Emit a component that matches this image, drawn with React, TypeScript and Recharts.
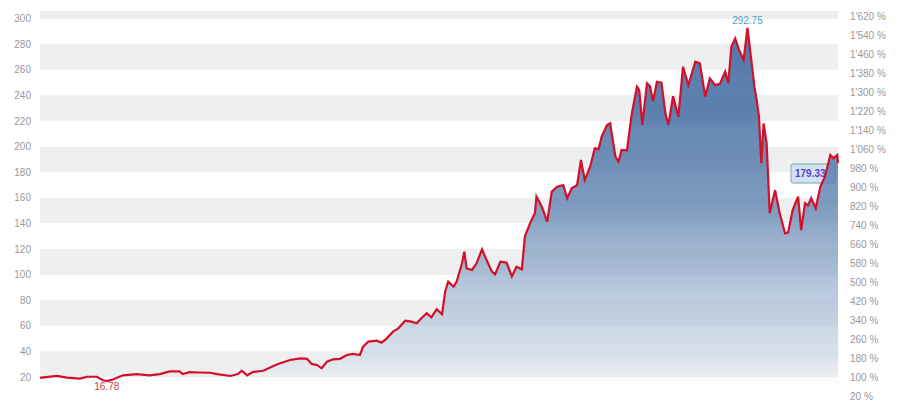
import { AreaChart, Area, Line, XAxis, YAxis, CartesianGrid, ReferenceDot } from 'recharts';

// time position of each observation (weeks from start) and closing price
const WEEKS = [
    0, 2, 22, 35, 52, 61, 74, 82, 87, 95, 108, 126, 143, 156, 169, 182, 186, 195, 208, 222,
    231, 248, 258, 263, 270, 278, 291, 304, 313, 326, 339, 348, 354, 361, 367, 374, 382, 391, 400, 408,
    417, 421, 428, 439, 445, 452, 460, 467, 476, 484, 491, 497, 504, 510, 517, 524, 528, 532, 539, 543,
    550, 553, 556, 563, 569, 576, 582, 589, 593, 600, 608, 615, 621, 628, 632, 639, 645, 647, 654, 661,
    667, 674, 682, 687, 693, 700, 705, 710, 717, 723, 728, 732, 739, 743, 750, 754, 758, 765, 771, 778,
    781, 785, 791, 795, 799, 804, 810, 815, 819, 825, 832, 838, 845, 854, 860, 867, 873, 880, 886, 893,
    897, 901, 906, 911, 917, 922, 927, 931, 934, 937, 940, 943, 947, 951, 958, 964, 971, 975, 981, 988,
    992, 997, 1001, 1005, 1011, 1017, 1023, 1030, 1034, 1039, 1040,
];

const PRICES = [
    19.3, 19.5, 20.8, 19.5, 18.7, 20.2, 20.2, 17.5, 16.78, 18.0, 21.3, 22.3, 21.3, 22.3, 24.4, 24.4, 22.3, 23.8, 23.5, 23.3,
    22.3, 20.8, 22.3, 24.9, 21.3, 24.0, 24.9, 28.6, 30.7, 33.3, 34.6, 34.2, 30.2, 29.4, 26.8, 32.0, 33.8, 34.2, 37.2, 38.0,
    37.2, 43.7, 47.6, 48.4, 46.8, 50.2, 55.4, 58.0, 64.0, 63.2, 62.0, 65.9, 69.8, 66.6, 72.9, 69.0, 86.6, 94.5, 90.5, 94.5,
    108.8, 117.9, 104.9, 103.6, 108.8, 119.7, 111.4, 102.3, 100.2, 110.1, 109.4, 98.5, 106.2, 104.2, 130.0, 140.5, 147.9, 160.9, 153.0, 141.3,
    164.8, 168.7, 170.0, 159.6, 167.4, 170.0, 189.5, 173.9, 184.3, 198.7, 198.0, 207.7, 216.9, 218.2, 192.0, 188.2, 197.3, 197.0, 224.7, 246.8,
    244.0, 216.9, 249.4, 247.0, 235.5, 250.7, 250.0, 226.0, 216.9, 239.3, 223.4, 262.4, 248.1, 266.3, 265.0, 239.0, 253.3, 248.0, 249.0, 258.5,
    249.4, 278.0, 284.5, 275.5, 267.7, 292.75, 267.7, 246.8, 236.4, 223.4, 187.0, 218.0, 202.6, 147.9, 166.0, 147.9, 132.2, 133.0, 150.5, 160.9,
    134.8, 155.7, 154.0, 159.6, 151.8, 168.7, 176.5, 193.4, 190.8, 193.4, 187.0,
];

const PRICE_TICKS = [20, 40, 60, 80, 100, 120, 140, 160, 180, 200, 220, 240, 260, 280, 300];
const PCT_TICKS = [20, 100, 180, 260, 340, 420, 500, 580, 660, 740, 820, 900, 980, 1060, 1140, 1220, 1300, 1380, 1460, 1540, 1620];

const HIGH = 292.75;
const LOW = 16.78;
const LAST_LABEL = 179.33;

const data = WEEKS.map((w, i) => ({
    week: w,
    price: PRICES[i],
    tag: i === WEEKS.length - 1 ? LAST_LABEL : null,
}));

const highWeek = WEEKS[PRICES.indexOf(HIGH)];
const lowWeek = WEEKS[PRICES.indexOf(LOW)];

const FONT = '"Liberation Sans", Arial, sans-serif';
const W = 884;
const H = 402;
const MARGIN = { top: 3, right: 0, bottom: 13, left: 0 };

const formatPct = (v: number) => `${String(v).replace(/\B(?=(\d{3})+(?!\d))/g, "'")} %`;

// value box, drawn in the back chart so the series passes over it
const LastValueBox = ({ cx, cy, value }: any) => {
    if (value == null || cx == null) return null;
    return (
        <g>
            <rect x={cx - 47} y={cy - 9} width={44} height={19} rx={2} fill="#d3e2ef" stroke="#7fa3b5" strokeWidth={1} />
            <text x={cx - 43} y={cy + 4} fontFamily={FONT} fontSize={10} fontWeight="bold" fill="#5b3fd0">
                {value.toFixed(2)}
            </text>
        </g>
    );
};

function Axes({ color }: { color: string }) {
    return [
        <XAxis key="x" dataKey="week" type="number" domain={[0, 1040]} hide />,
        <YAxis
            key="y"
            domain={[4.375, 305.9]}
            allowDataOverflow
            ticks={PRICE_TICKS}
            interval={0}
            width={32}
            axisLine={false}
            tickLine={false}
            tickSize={0}
            tickMargin={9}
            tick={{ fill: color, fontSize: 10, fontFamily: FONT }}
        />,
        <YAxis
            key="pct"
            yAxisId="pct"
            orientation="right"
            domain={[19, 1641]}
            allowDataOverflow
            ticks={PCT_TICKS}
            interval={0}
            width={54}
            axisLine={false}
            tickLine={false}
            tickSize={0}
            tickMargin={12}
            tickFormatter={formatPct}
            tick={{ fill: color, fontSize: 10, fontFamily: FONT, textAnchor: 'start' }}
        />,
    ];
}

export default function App() {
    return (
        <div style={{ position: 'relative', width: W, height: H, background: '#fff' }}>
            {/* back layer: stripes and the last value box */}
            <div style={{ position: 'absolute', left: 0, top: 0 }}>
                <AreaChart width={W} height={H} data={data} margin={MARGIN}>
                    <CartesianGrid vertical={false} stroke="none" horizontalFill={['#eeeff1', '#ffffff']} />
                    {Axes({ color: 'transparent' })}
                    <Line
                        dataKey="tag"
                        stroke="none"
                        dot={<LastValueBox />}
                        activeDot={false}
                        isAnimationActive={false}
                    />
                </AreaChart>
            </div>
            {/* front layer: series, axes and labels */}
            <div style={{ position: 'absolute', left: 0, top: 0 }}>
                <AreaChart width={W} height={H} data={data} margin={MARGIN}>
                    <defs>
                        <linearGradient id="priceFill" x1="0" y1="0" x2="0" y2="1">
                            <stop offset="0%" stopColor="#3a66a0" stopOpacity={0.87} />
                            <stop offset="22%" stopColor="#426ca2" stopOpacity={0.85} />
                            <stop offset="47%" stopColor="#5f83b0" stopOpacity={0.8} />
                            <stop offset="60%" stopColor="#7f9cc0" stopOpacity={0.75} />
                            <stop offset="74%" stopColor="#a4bad3" stopOpacity={0.7} />
                            <stop offset="87%" stopColor="#bbcade" stopOpacity={0.6} />
                            <stop offset="100%" stopColor="#ffffff" stopOpacity={0} />
                        </linearGradient>
                    </defs>
                    {Axes({ color: '#999' })}
                    <Area
                        type="linear"
                        dataKey="price"
                        stroke="#d3102a"
                        strokeWidth={2.2}
                        fill="url(#priceFill)"
                        fillOpacity={1}
                        dot={false}
                        activeDot={false}
                        isAnimationActive={false}
                    />
                    <ReferenceDot
                        x={highWeek}
                        y={HIGH}
                        r={0}
                        label={{ value: HIGH.toFixed(2), position: 'top', offset: 4, fill: '#4fa0c2', fontSize: 10, fontFamily: FONT }}
                    />
                    <ReferenceDot
                        x={lowWeek}
                        y={LOW}
                        r={0}
                        label={{ value: LOW.toFixed(2), position: 'bottom', offset: 2, fill: '#b0475a', fontSize: 10, fontFamily: FONT }}
                    />
                </AreaChart>
            </div>
        </div>
    );
}
